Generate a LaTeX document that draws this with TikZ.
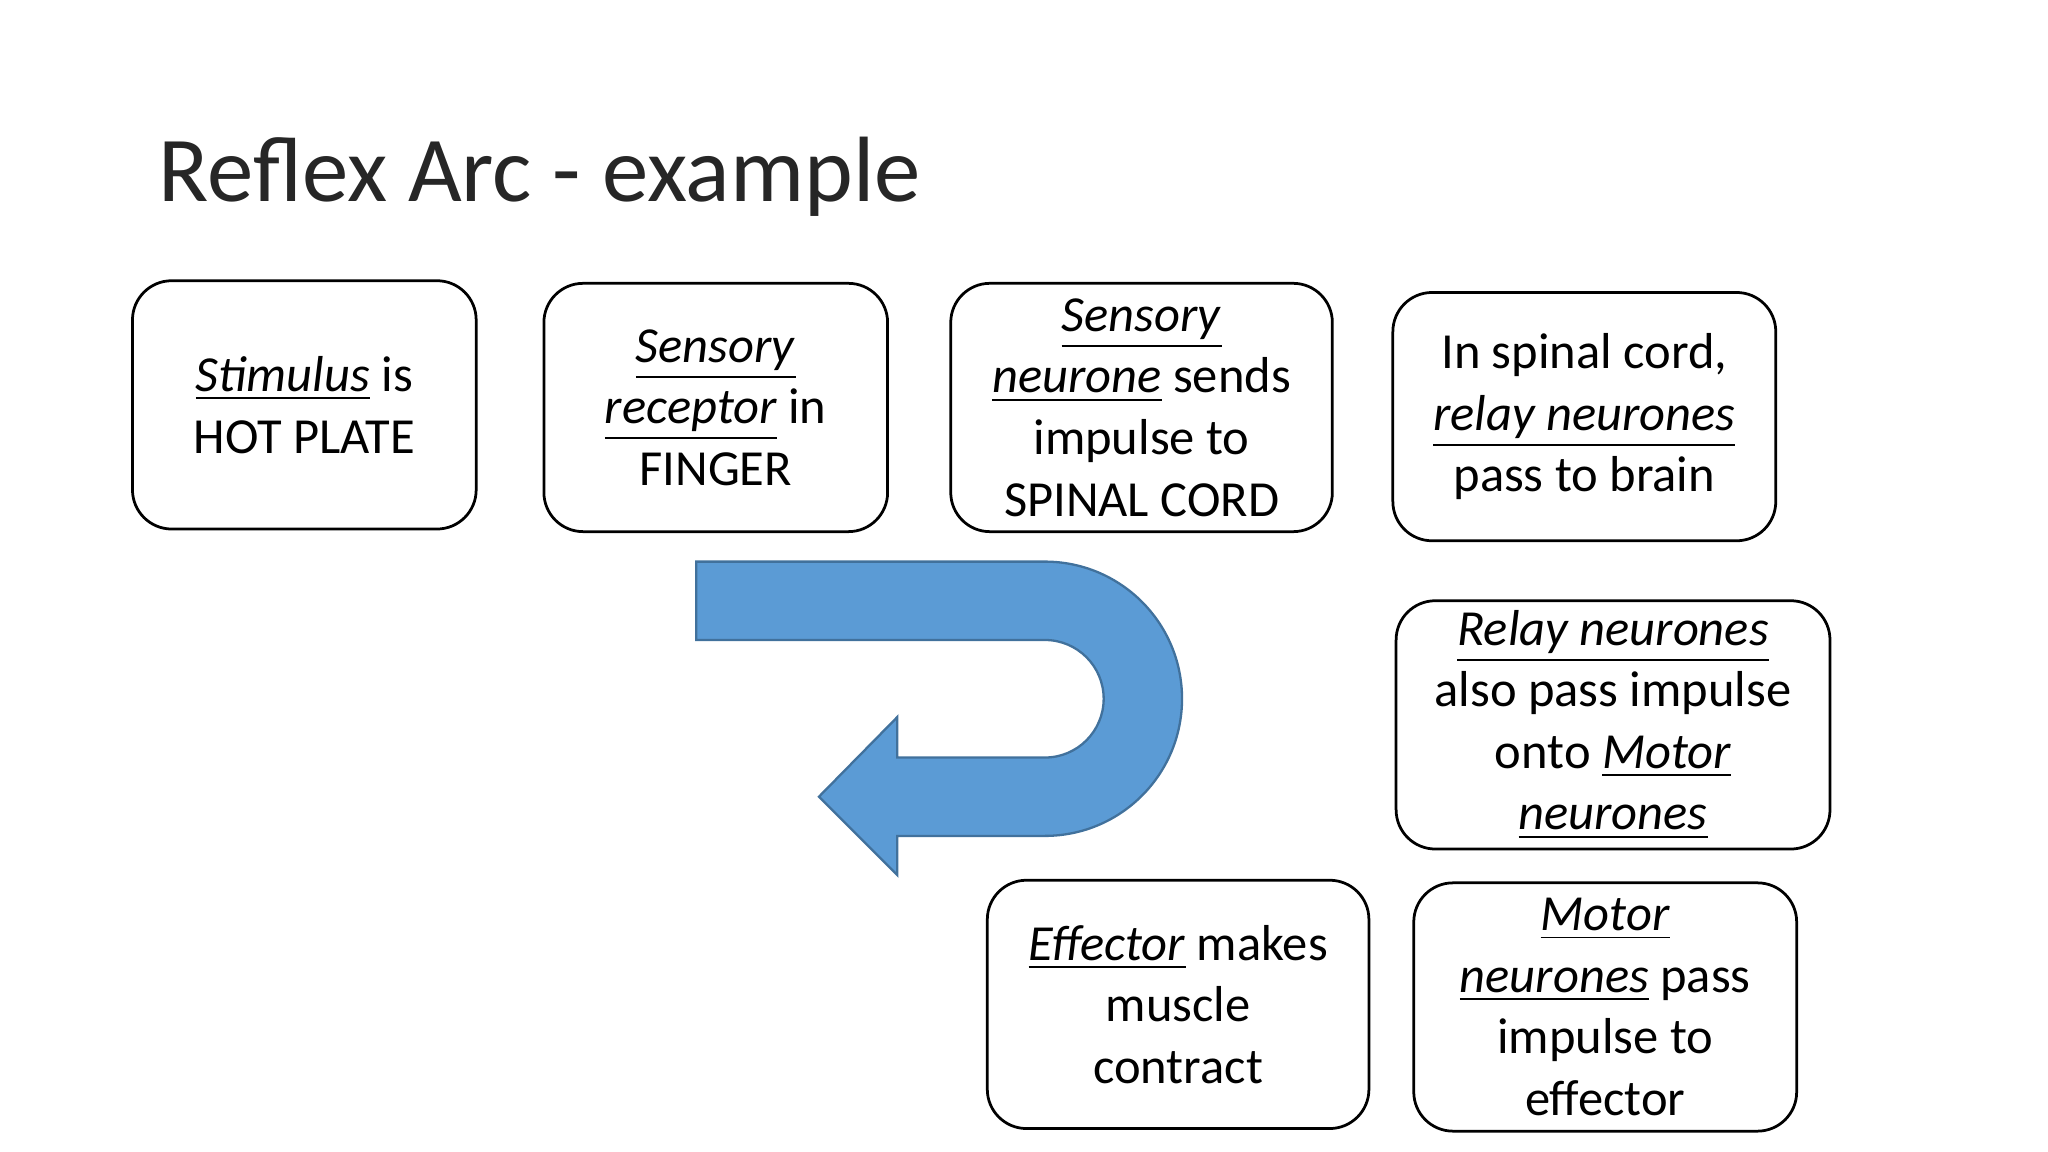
\documentclass[tikz,border=0pt]{standalone}
\usepackage{fontspec}
\setmainfont{Carlito}
\usetikzlibrary{positioning}
\tikzset{
  stage/.style={rectangle, rounded corners=0.3cm, draw=black, line width=0.6pt, align=center,
    font=\fontsize{11}{13.4}\selectfont},
  uarrow/.style={fill={rgb,255:red,91;green,155;blue,213}, draw={rgb,255:red,65;green,113;blue,156}, line width=0.5pt}
}
\newcommand{\ul}[1]{\underline{\textit{#1}}}

\begin{document}
\begin{tikzpicture}[x=0.01cm, y=0.01cm]
    \useasboundingbox (0,0) rectangle (1568,882);
    % Title
    \node[anchor=base west, font=\fontsize{20.2}{24}\selectfont, inner sep=0, text=black!85] (title) at (121,728) {Reflex Arc - example};

    % Defining nodes
    \node[stage, minimum width=2.63cm, minimum height=1.9cm] (stimulus) at (233,572) {\ul{Stimulus} is\\HOT PLATE};
    \node[stage, minimum width=2.63cm, minimum height=1.9cm] (receptor) at (548,570) {\ul{Sensory}\\\ul{receptor} in\\FINGER};
    \node[stage, minimum width=2.92cm, minimum height=1.9cm] (sensory) at (874,570) {\ul{Sensory}\\\ul{neurone} sends\\impulse to\\SPINAL CORD};
    \node[stage, minimum width=2.93cm, minimum height=1.9cm] (spinal) at (1213,563) {In spinal cord,\\\ul{relay neurones}\\pass to brain};
    \node[stage, minimum width=3.32cm, minimum height=1.9cm, inner ysep=1pt] (relay) at (1235,327) {\ul{Relay neurones}\\also pass impulse\\onto \ul{Motor}\\\ul{neurones}};
    \node[stage, minimum width=2.93cm, minimum height=1.9cm] (motor) at (1229,111) {\ul{Motor}\\\ul{neurones} pass\\impulse to\\effector};
    \node[stage, minimum width=2.92cm, minimum height=1.9cm] (effector) at (902,113) {\ul{Effector} makes\\muscle\\contract};

    % U-turn arrow
    \draw[uarrow] (533,452) -- (800,452) arc[start angle=90, end angle=-90, radius=105]
        -- (687,242) -- (687,212) -- (627,272) -- (687,333) -- (687,302) -- (800,302)
        arc[start angle=-90, end angle=90, radius=45] -- (533,392) -- cycle;
\end{tikzpicture}
\end{document}
